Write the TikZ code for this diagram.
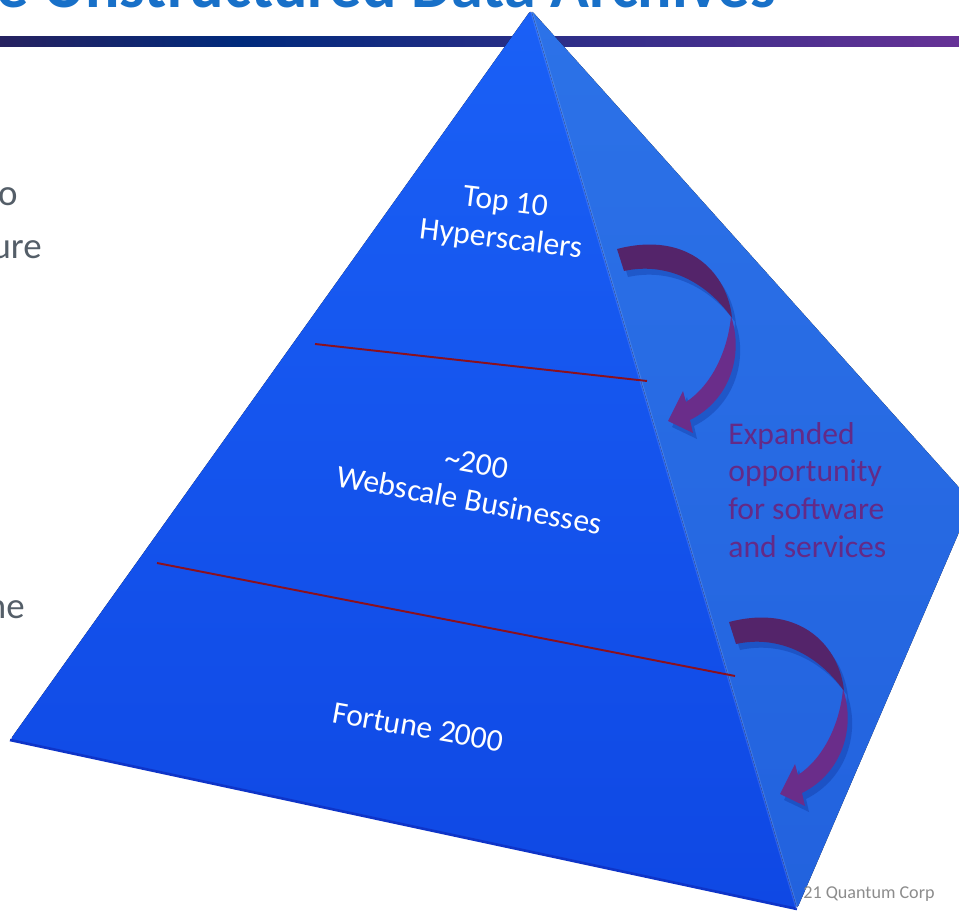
\documentclass[tikz,border=0pt]{standalone}
\usepackage{fontspec}
\setmainfont{Carlito}
\usetikzlibrary{positioning}

\definecolor{titleblue}{RGB}{24,112,200}
\definecolor{barLeft}{RGB}{38,34,96}
\definecolor{barMid}{RGB}{0,42,124}
\definecolor{barRight}{RGB}{102,50,150}
\definecolor{slidegrey}{RGB}{84,94,104}
\definecolor{frontTop}{RGB}{26,96,246}
\definecolor{frontBot}{RGB}{15,72,228}
\definecolor{sideTop}{RGB}{44,114,232}
\definecolor{sideBot}{RGB}{34,98,222}
\definecolor{baseblue}{RGB}{14,52,200}
\definecolor{layerred}{RGB}{140,16,30}
\definecolor{arrowdark}{RGB}{84,36,106}
\definecolor{arrowlight}{RGB}{106,45,138}
\definecolor{shadowblue}{RGB}{15,50,150}
\definecolor{oppurple}{RGB}{100,42,135}
\definecolor{footgrey}{RGB}{140,140,140}

\tikzset{
  layerline/.style={line width=1.1pt, color=layerred},
  layertext/.style={text=white, align=center, font=\fontsize{18}{21.5}\selectfont},
}

\begin{document}
\begin{tikzpicture}[x=0.02cm, y=-0.02cm, every node/.style={inner sep=0pt}]
    \useasboundingbox (0,0) rectangle (959,911);
    \clip (0,0) rectangle (959,911);

    % Заголовок и полоса
    \node[anchor=base east, text=titleblue, font=\fontsize{36.5}{40}\selectfont\bfseries] (title) at (776,8) {e Unstructured Data Archives};
    \shade[left color=barLeft, right color=barMid] (0,37) rectangle (240,47);
    \shade[left color=barMid, right color=barRight] (240,37) rectangle (959,47);

    % Обрывки текста слева
    \node[anchor=base east, text=slidegrey, font=\fontsize{21}{24}\selectfont] (fragA) at (18,206) {o};
    \node[anchor=base east, text=slidegrey, font=\fontsize{21}{24}\selectfont] (fragB) at (42,259) {ure};
    \node[anchor=base east, text=slidegrey, font=\fontsize{21}{24}\selectfont] (fragC) at (25,618) {ne};

    % Пирамида
    \coordinate (T) at (531,10);
    \coordinate (L) at (10,740);
    \coordinate (B) at (797,909);
    \coordinate (R) at (972,502);

    \fill[top color=sideTop, bottom color=sideBot, rounded corners=2pt] (T) -- (R) -- (B) -- cycle;
    \fill[top color=frontTop, bottom color=frontBot, rounded corners=2pt] (T) -- (L) -- (B) -- cycle;
    \draw[baseblue, line width=1.5pt] (L) -- (B);
    \draw[white, opacity=0.12, line width=1.5pt] (T) -- (B);

    % Границы слоёв
    \coordinate (P1) at (315,344);
    \coordinate (Q1) at (647,381);
    \coordinate (P2) at (157,563);
    \coordinate (Q2) at (735,676);
    \draw[layerline] (P1) -- (Q1);
    \draw[layerline] (P2) -- (Q2);

    % Изогнутые стрелки
    \foreach \dx/\dy in {0/0, 112/373} {
        \begin{scope}[shift={(\dx,\dy)}]
            \fill[shadowblue, opacity=0.35, shift={(4,6)}]
                (617,249) .. controls (690,230) and (728,275) .. (732,318)
                .. controls (744,355) and (730,400) .. (690,420)
                -- (693,433) -- (668,421) -- (683,391) -- (686,402)
                .. controls (712,385) and (728,350) .. (731,316)
                .. controls (705,280) and (665,262) .. (624,271) -- cycle;
            \fill[arrowdark] (617,249) .. controls (690,230) and (728,275) .. (732,318)
                .. controls (705,280) and (665,262) .. (624,271) -- cycle;
            \fill[arrowlight] (731,316) .. controls (744,355) and (730,400) .. (690,420)
                -- (693,433) -- (668,421) -- (683,391) -- (686,402)
                .. controls (712,385) and (728,350) .. (731,316) -- cycle;
        \end{scope}
    }

    % Подписи
    \node[layertext, rotate=-7] (top10) at (503,222) {Top 10\\Hyperscalers};
    \node[layertext, rotate=-10.5] (webscale) at (473,482) {\textasciitilde200\\Webscale Businesses};
    \node[layertext, rotate=-10] (fortune) at (418,727) {Fortune 2000};
    \node[anchor=west, align=left, text=oppurple, font=\fontsize{18}{21.5}\selectfont] (expanded) at (728,490) {Expanded\\opportunity\\for software\\and services};

    \node[anchor=base west, text=footgrey, font=\fontsize{10.3}{12}\selectfont] (footer) at (803,898) {21 Quantum Corp};
\end{tikzpicture}
\end{document}
